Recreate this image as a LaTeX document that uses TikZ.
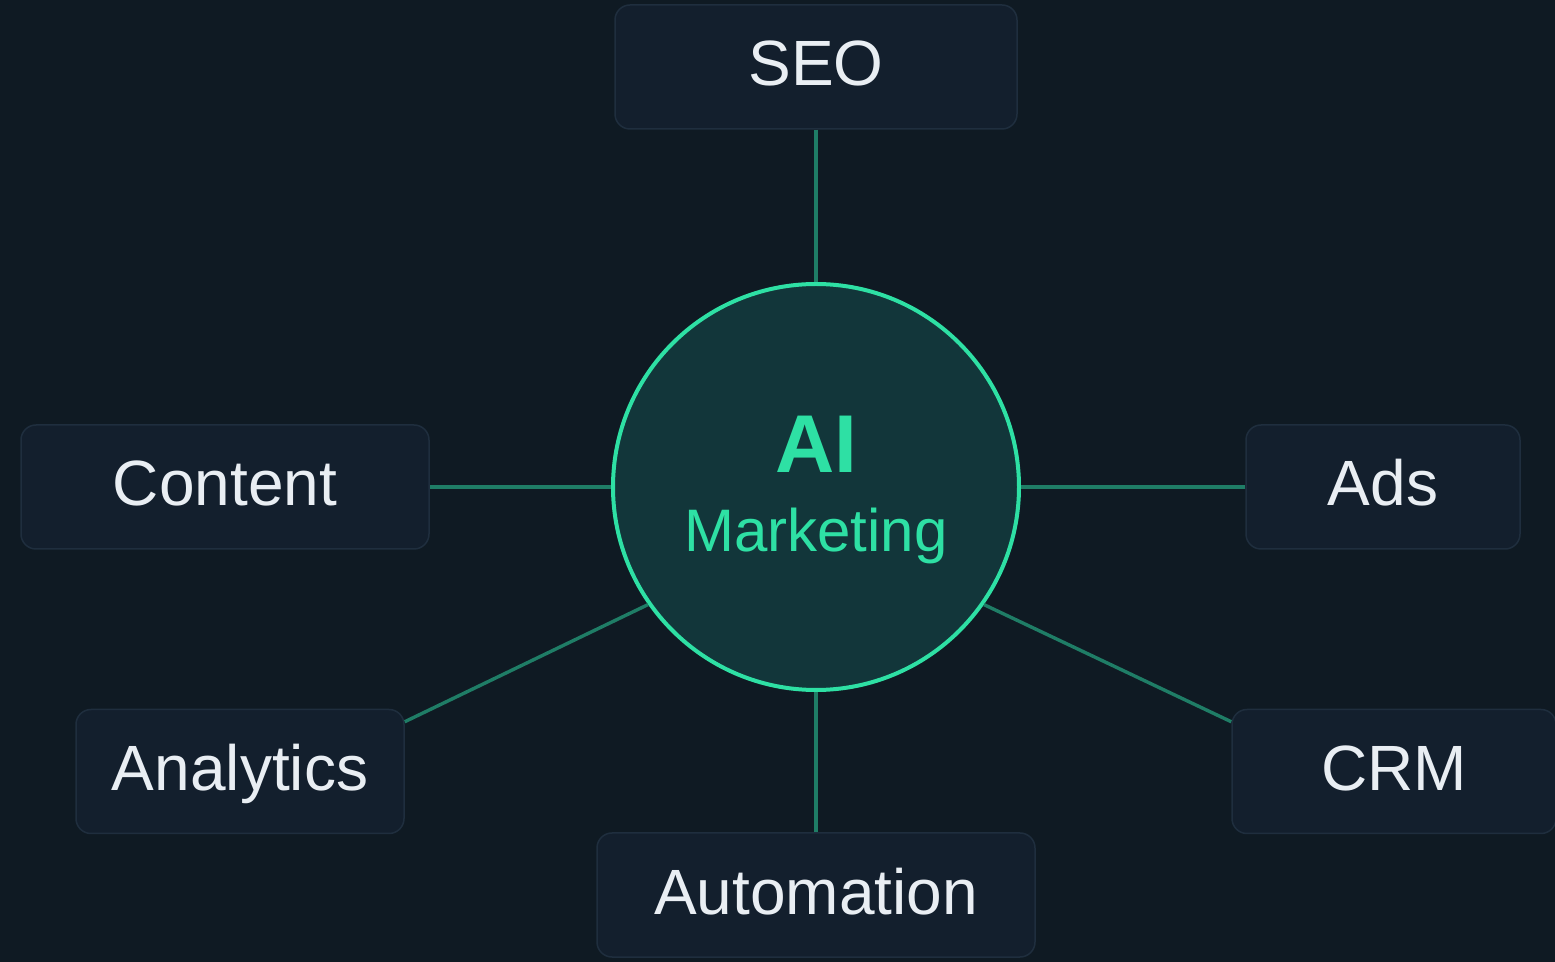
\documentclass[tikz,border=0pt]{standalone}
\usepackage{fontspec}
\setmainfont{Liberation Sans}
\usetikzlibrary{arrows}

\definecolor{bg}{HTML}{0F1A23}
\definecolor{boxfill}{HTML}{131F2D}
\definecolor{boxline}{HTML}{1F2E3E}
\definecolor{linkcol}{HTML}{1F7D66}
\definecolor{hubfill}{HTML}{12363A}
\definecolor{hubline}{HTML}{2EE0A4}
\definecolor{txt}{HTML}{E9EEF3}

\begin{document}
\begin{tikzpicture}[x=0.5pt,y=-0.5pt,
	box/.style={rectangle,rounded corners=7.5pt,draw=boxline,line width=0.75pt,fill=boxfill,
		minimum height=62pt,inner sep=0pt,text=txt,text height=23pt,text depth=4pt,
		font=\fontsize{32}{38}\selectfont},
	hub/.style={circle,draw=hubline,line width=2pt,fill=hubfill,minimum size=203pt,inner sep=0pt},
	link/.style={draw=linkcol,line width=1.7pt}]
	
	\fill[bg] (0,0) rectangle (1555,962);
	\useasboundingbox (0,0) rectangle (1555,962);
	
	\node[hub] (ai) at (816,487) {};
	\node[anchor=base,text=hubline,font=\fontsize{41}{50}\selectfont\bfseries] (ait) at (816,473) {AI};
	\node[anchor=base,text=hubline,font=\fontsize{30}{36}\selectfont] (mkt) at (816,552) {Marketing};
	
	\node[box,minimum width=201pt] (seo) at (816,67) {SEO};
	\node[box,minimum width=204pt] (con) at (225,487) {Content};
	\node[box,minimum width=137pt] (ads) at (1383,487) {Ads};
	\node[box,minimum width=164pt] (ana) at (240,771.5) {Analytics};
	\node[box,minimum width=162pt] (crm) at (1394,771.5) {CRM};
	\node[box,minimum width=219pt] (aut) at (816,895) {Automation};
	
	\path[link]
	(seo) -- (ai)
	(con) -- (ai)
	(ads) -- (ai)
	(aut) -- (ai);
	\draw[link] (ai.215.6) -- ([yshift=-6.5pt]ana.north east);
	\draw[link] (ai.-35.8) -- ([yshift=-6.5pt]crm.north west);
	\end{tikzpicture}
\end{document}
